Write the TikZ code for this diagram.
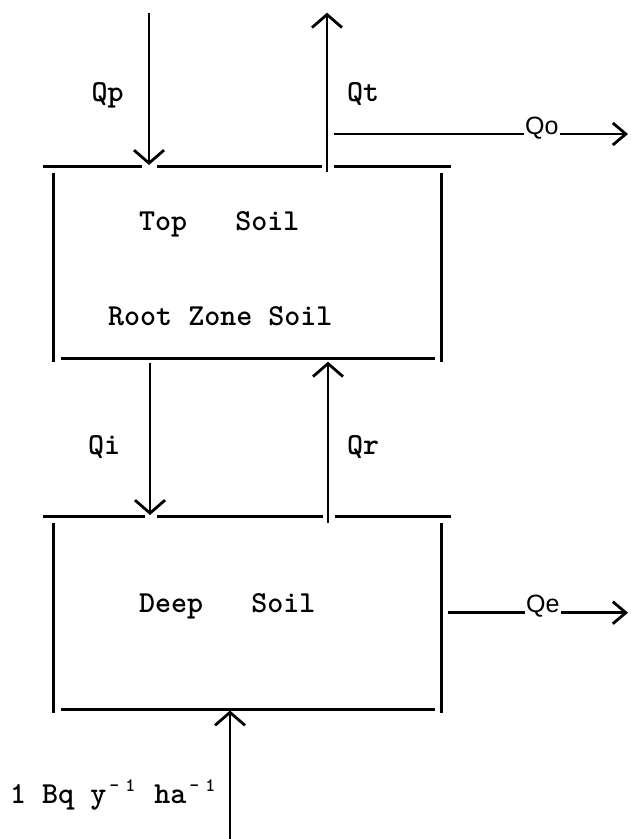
\documentclass[tikz,border=0pt]{standalone}
\usepackage{fontspec}
\newfontfamily\flowfont{Liberation Sans}
\usetikzlibrary{arrows.meta}
\newcommand{\supm}[1]{\raisebox{11.5pt}{\fontsize{19}{19}\selectfont\makebox[16pt]{-}\makebox[16pt]{#1}}}
\tikzset{
    wall/.style={line width=3pt},
    flow/.style={line width=2.3pt, -{Straight Barb[length=13pt,width=30pt,line width=2.8pt]}},
    sideflow/.style={line width=2.5pt},
    outflow/.style={line width=2.5pt, -{Straight Barb[length=13pt,width=22pt,line width=2.8pt]}},
    tt/.style={inner sep=0pt, anchor=base west, font=\fontsize{30.5}{36}\selectfont\ttfamily\bfseries},
    sf/.style={inner sep=0pt, anchor=base west, font=\fontsize{25}{30}\selectfont\flowfont}
}

\begin{document}
\begin{tikzpicture}[x=1pt, y=-1pt]
        \useasboundingbox (0,0) rectangle (630,839);

        \draw[wall] (43,166) -- (142,166) (157,166) -- (322,166) (334,166) -- (451,166);
        \draw[wall] (53.3,172.7) -- (53.3,362) (441,172.7) -- (441,362);
        \draw[wall] (60.7,358) -- (435,358);
        \draw[wall] (43,516.5) -- (145,516.5) (157,516.5) -- (322.7,516.5) (335,516.5) -- (451,516.5);
        \draw[wall] (53.3,523) -- (53.3,713) (441,523) -- (441,713);
        \draw[wall] (60.7,709) -- (435,709);

        \node[tt] (topsoil) at (139,230.7) {Top\ \ \ Soil};
        \node[tt] (rootzone) at (108,325.5) {Root Zone Soil};
        \node[tt] (deepsoil) at (139,612.3) {Deep\ \ \ Soil};

        \node[tt] (qp) at (91.5,101) {Qp};
        \node[tt] (qt) at (347,101) {Qt};
        \node[tt] (qi) at (88,454) {Qi};
        \node[tt] (qr) at (347,454) {Qr};
        \node[sf] (qo) at (525,134) {Qo};
        \node[sf] (qe) at (526,612.7) {Qe};
        \node[tt] (input) at (10,803.3) {1 Bq y\supm{1} ha\supm{1}};

        \coordinate (qpS) at (149,12.7);
        \coordinate (qpE) at (149,165);
        \coordinate (qtS) at (327,171.7);
        \coordinate (qtE) at (327,12.7);
        \coordinate (qoS) at (334,134);
        \coordinate (qoE) at (628,134);
        \coordinate (qiS) at (150,363.3);
        \coordinate (qiE) at (150,515);
        \coordinate (qrS) at (328,522.7);
        \coordinate (qrE) at (328,361.7);
        \coordinate (qeS) at (448.3,612.7);
        \coordinate (qeE) at (628,612.7);
        \coordinate (inS) at (230,839);
        \coordinate (inE) at (230,710.5);

        \draw[flow] (qpS) -- (qpE);
        \draw[flow] (qtS) -- (qtE);
        \draw[sideflow] (qoS) -- ([xshift=-1pt]qo.base west);
        \draw[outflow] ([xshift=1pt]qo.base east) -- (qoE);
        \draw[flow] (qiS) -- (qiE);
        \draw[flow] (qrS) -- (qrE);
        \draw[sideflow] (qeS) -- ([xshift=-1pt]qe.base west);
        \draw[outflow] ([xshift=1pt]qe.base east) -- (qeE);
        \draw[flow] (inS) -- (inE);
    \end{tikzpicture}
\end{document}
